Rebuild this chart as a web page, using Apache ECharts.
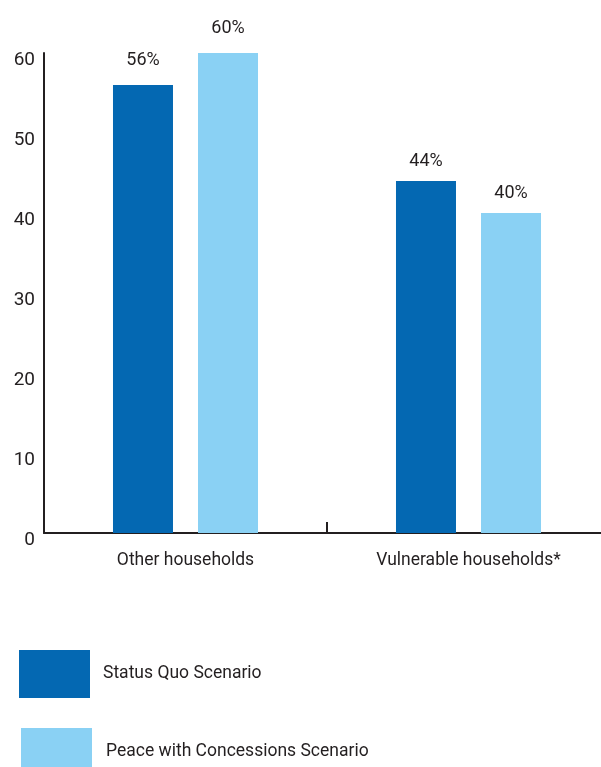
<!DOCTYPE html>
<html>
<head>
<meta charset="utf-8">
<script src="https://cdn.jsdelivr.net/npm/echarts@6/dist/echarts.min.js"></script>
<style>
  html, body { margin: 0; padding: 0; background: #ffffff; }
  #chart { width: 601px; height: 767px; }
</style>
</head>
<body>
<div id="chart"></div>
<script>
// Share of households (%) by scenario
const categories = ['Other households', 'Vulnerable households*'];
const seriesNames = ['Status Quo Scenario', 'Peace with Concessions Scenario'];
const statusQuo = [56, 44];
const peaceWithConcessions = [60, 40];
const yTicks = [0, 10, 20, 30, 40, 50, 60];

// gap between each bar top and its percentage label, per category
const labelGap = [16, 11];

const FONT = "Roboto, 'Liberation Sans', Arial, sans-serif";
const TEXT = '#231f20';
const DARK = '#0468b2';
const LIGHT = '#8ad1f4';

const chart = echarts.init(document.getElementById('chart'), null, { renderer: 'canvas' });

function barData(values) {
  return values.map((v, i) => ({ value: v, label: { distance: labelGap[i] } }));
}

const barLabel = {
  show: true,
  position: 'top',
  formatter: '{c}%',
  color: TEXT,
  fontFamily: FONT,
  fontSize: 18
};

chart.setOption({
  animation: false,
  textStyle: { fontFamily: FONT, color: TEXT },
  grid: { left: 44, right: -9, top: 53, bottom: 234, containLabel: false, outerBoundsMode: 'none' },
  legend: [
    {
      data: [seriesNames[0]],
      left: 19, top: 650, padding: 0,
      itemWidth: 71, itemHeight: 48,
      icon: 'rect',
      textStyle: { color: TEXT, fontFamily: FONT, fontSize: 17.5, padding: [0, 0, 0, 8] }
    },
    {
      data: [seriesNames[1]],
      left: 21, top: 728, padding: 0,
      itemWidth: 71, itemHeight: 48,
      icon: 'rect',
      textStyle: { color: TEXT, fontFamily: FONT, fontSize: 17.5, padding: [10, 0, 0, 9] }
    }
  ],
  xAxis: {
    type: 'category',
    data: categories,
    axisLine: { show: true, lineStyle: { color: TEXT, width: 2 } },
    axisTick: { show: true, inside: true, length: 11, lineStyle: { color: TEXT, width: 2 } },
    axisLabel: { color: TEXT, fontFamily: FONT, fontSize: 17.5, margin: 19 },
    splitLine: { show: false }
  },
  yAxis: {
    type: 'value',
    min: yTicks[0],
    max: yTicks[yTicks.length - 1],
    interval: yTicks[1] - yTicks[0],
    axisLine: { show: true, lineStyle: { color: TEXT, width: 2 } },
    axisTick: { show: false },
    axisLabel: {
      color: TEXT, fontFamily: FONT, fontSize: 19, margin: 9,
      formatter: '{v|{value}}',
      rich: { v: { fontFamily: FONT, fontSize: 19, color: TEXT, padding: [14, 0, 0, 0] } }
    },
    splitLine: { show: false }
  },
  series: [
    {
      name: seriesNames[0],
      type: 'bar',
      data: barData(statusQuo),
      barWidth: 60,
      barGap: '41.7%',
      itemStyle: { color: DARK },
      label: barLabel
    },
    {
      name: seriesNames[1],
      type: 'bar',
      data: barData(peaceWithConcessions),
      barWidth: 60,
      barGap: '41.7%',
      itemStyle: { color: LIGHT },
      label: barLabel
    }
  ]
});
</script>
</body>
</html>
